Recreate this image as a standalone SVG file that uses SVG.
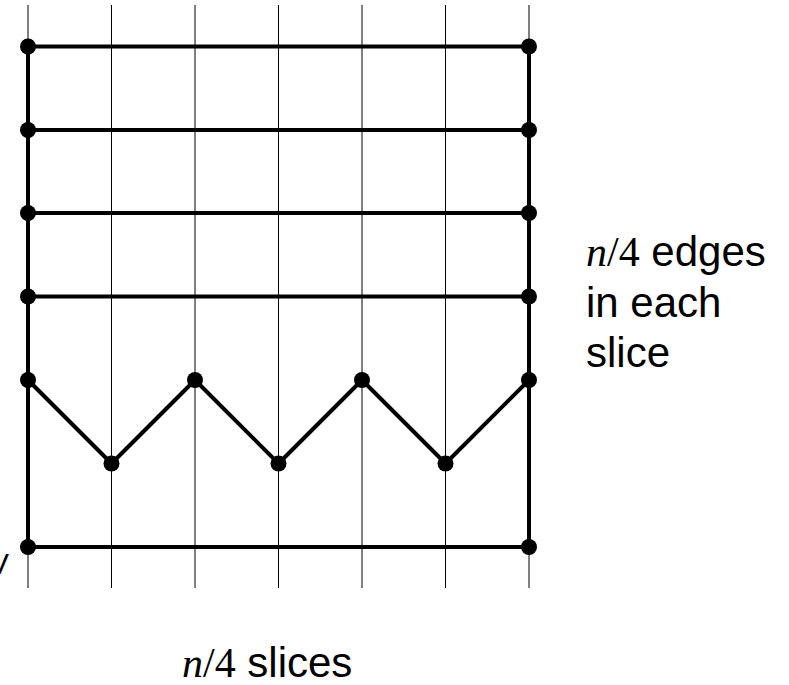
<svg xmlns="http://www.w3.org/2000/svg" width="789" height="685" viewBox="0 0 789 685">
<style>
.grid{stroke:#000;stroke-width:1;fill:none}
.edge{stroke:#000;stroke-width:4;fill:none;stroke-linejoin:round}
.dot{fill:#000}
.lbl{font-family:"Liberation Sans",Arial,sans-serif;font-size:42px;fill:#000}
.m{font-family:"Liberation Serif","Times New Roman",serif}
</style>
<rect width="789" height="685" fill="#fff"/>
<g id="slices">
<line class="grid" x1="28" y1="5" x2="28" y2="588"/>
<line class="grid" x1="111.5" y1="5" x2="111.5" y2="588"/>
<line class="grid" x1="195" y1="5" x2="195" y2="588"/>
<line class="grid" x1="278.5" y1="5" x2="278.5" y2="588"/>
<line class="grid" x1="362" y1="5" x2="362" y2="588"/>
<line class="grid" x1="445.5" y1="5" x2="445.5" y2="588"/>
<line class="grid" x1="529" y1="5" x2="529" y2="588"/>
</g>
<g id="connectors">
<line class="edge" x1="28" y1="46.5" x2="28" y2="547"/>
<line class="edge" x1="529" y1="46.5" x2="529" y2="547"/>
<line class="edge" x1="28" y1="46.5" x2="529" y2="46.5"/>
<line class="edge" x1="28" y1="130" x2="529" y2="130"/>
<line class="edge" x1="28" y1="213" x2="529" y2="213"/>
<line class="edge" x1="28" y1="296.5" x2="529" y2="296.5"/>
<polyline class="edge" points="28,380 111.5,463.5 195,380 278.5,463.5 362,380 445.5,463.5 529,380"/>
<line class="edge" x1="28" y1="547" x2="529" y2="547"/>
</g>
<g id="nodes">
<circle id="n1" class="dot" cx="28" cy="46.5" r="8"/>
<circle id="n2" class="dot" cx="529" cy="46.5" r="8"/>
<circle id="n3" class="dot" cx="28" cy="130" r="8"/>
<circle id="n4" class="dot" cx="529" cy="130" r="8"/>
<circle id="n5" class="dot" cx="28" cy="213" r="8"/>
<circle id="n6" class="dot" cx="529" cy="213" r="8"/>
<circle id="n7" class="dot" cx="28" cy="296.5" r="8"/>
<circle id="n8" class="dot" cx="529" cy="296.5" r="8"/>
<circle id="n9" class="dot" cx="28" cy="380" r="8"/>
<circle id="n10" class="dot" cx="111.5" cy="463.5" r="8"/>
<circle id="n11" class="dot" cx="195" cy="380" r="8"/>
<circle id="n12" class="dot" cx="278.5" cy="463.5" r="8"/>
<circle id="n13" class="dot" cx="362" cy="380" r="8"/>
<circle id="n14" class="dot" cx="445.5" cy="463.5" r="8"/>
<circle id="n15" class="dot" cx="529" cy="380" r="8"/>
<circle id="n16" class="dot" cx="28" cy="547" r="8"/>
<circle id="n17" class="dot" cx="529" cy="547" r="8"/>
</g>
<g id="labels">
<text class="lbl" x="586" y="266"><tspan class="m" font-style="italic">n</tspan><tspan class="m">/4</tspan> edges</text>
<text class="lbl" x="586" y="317">in each</text>
<text class="lbl" x="586" y="367">slice</text>
<text class="lbl" x="182" y="677"><tspan class="m" font-style="italic">n</tspan><tspan class="m">/4</tspan> slices</text>
<text class="lbl" x="9" y="574" text-anchor="end" style="font-size:30px">V</text>
</g>
</svg>
